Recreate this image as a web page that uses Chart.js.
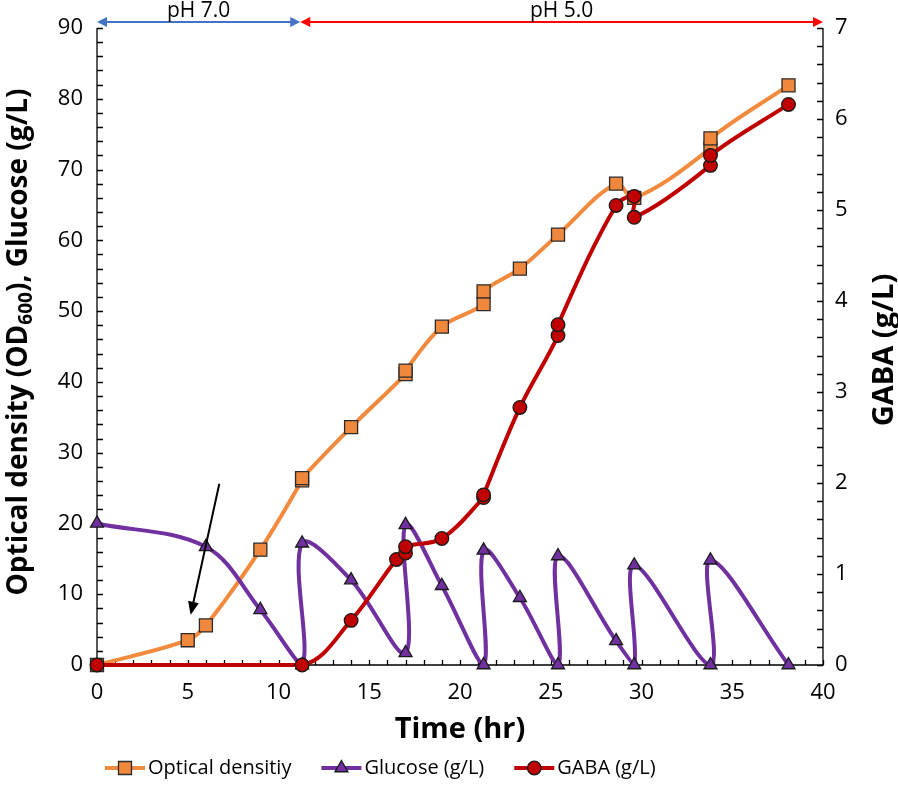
<!DOCTYPE html>
<html>
<head>
<meta charset="utf-8">
<script src="https://cdn.jsdelivr.net/npm/chart.js@4.4.1/dist/chart.umd.min.js"></script>
<style>
    html, body { margin: 0; padding: 0; background: #fff; }
    #wrap { width: 898px; height: 790px; }
</style>
</head>
<body>
<div id="wrap"><canvas id="gabaChart" width="898" height="790"></canvas></div>
<script>
// Optical density (left axis)
const odTime = [0, 5, 6, 9, 11.3, 11.3, 14, 17, 17, 19, 21.3, 21.3, 23.3, 25.4, 28.6, 29.6, 33.8, 33.8, 38.1];
const odValue = [0, 3.5, 5.6, 16.3, 26.1, 26.4, 33.6, 41.1, 41.6, 47.8, 51.0, 52.8, 56.0, 60.8, 68.0, 66.0, 73.0, 74.4, 81.9];

// Glucose (left axis)
const glucoseTime = [0, 6, 9, 11.3, 11.3, 14, 17, 17, 19, 21.3, 21.3, 23.3, 25.4, 25.4, 28.6, 29.6, 29.6, 33.8, 33.8, 38.1];
const glucoseValue = [20, 16.7, 7.8, 0, 17.2, 12.0, 1.7, 19.8, 11.2, 0, 16.2, 9.5, 0, 15.4, 3.4, 0, 14.1, 0, 14.8, 0];

// GABA (right axis)
const gabaTime = [0, 11.3, 14, 16.5, 17, 17, 19, 21.3, 21.3, 23.3, 25.4, 25.4, 28.6, 29.6, 29.6, 33.8, 33.8, 38.1];
const gabaValue = [0, 0, 0.49, 1.16, 1.23, 1.30, 1.39, 1.84, 1.87, 2.83, 3.62, 3.74, 5.05, 5.15, 4.92, 5.49, 5.60, 6.16];

const seriesLabels = ['Optical densitiy', 'Glucose (g/L)', 'GABA (g/L)'];

// pH phases shown as arrows above the plot
const phaseLabels = ['pH 7.0', 'pH 5.0'];
const phaseStart = [0, 11.2];
const phaseEnd = [11.2, 40];

// black arrow pointing at the induction time (time, left-axis value)
const pointerFrom = [6.74, 25.6];
const pointerTo = [5.16, 7.1];

const FONT = '"Open Sans", sans-serif';
const ORANGE = '#F28A3E';
const PURPLE = '#7030A0';
const RED = '#C00000';

function toPoints(xs, ys) {
    return xs.map((x, i) => ({ x: x, y: ys[i] }));
}

function arrowHead(ctx, x1, y1, x2, y2, len, half, color) {
    const a = Math.atan2(y2 - y1, x2 - x1);
    ctx.save();
    ctx.fillStyle = color;
    ctx.beginPath();
    ctx.moveTo(x2, y2);
    ctx.lineTo(x2 - len * Math.cos(a) + half * Math.sin(a), y2 - len * Math.sin(a) - half * Math.cos(a));
    ctx.lineTo(x2 - len * Math.cos(a) - half * Math.sin(a), y2 - len * Math.sin(a) + half * Math.cos(a));
    ctx.closePath();
    ctx.fill();
    ctx.restore();
}

// axes with small inside ticks, drawn under the data
const axesPlugin = {
    id: 'axesPlugin',
    beforeDatasetsDraw(chart) {
        const ctx = chart.ctx;
        const { left, right, top, bottom } = chart.chartArea;
        const xs = chart.scales.x, yl = chart.scales.y, yr = chart.scales.y2;
        ctx.save();
        ctx.strokeStyle = '#000';
        ctx.lineWidth = 1.3;
        ctx.beginPath();
        ctx.moveTo(left, top); ctx.lineTo(left, bottom); ctx.lineTo(right, bottom); ctx.lineTo(right, top);
        for (let v = 0; v <= 40; v += 1) {
            const px = Math.round(xs.getPixelForValue(v)) + 0.5;
            ctx.moveTo(px, bottom); ctx.lineTo(px, bottom - 5);
        }
        for (let v = 0; v <= 90; v += 2) {
            const py = Math.round(yl.getPixelForValue(v)) + 0.5;
            ctx.moveTo(left, py); ctx.lineTo(left + 6, py);
        }
        for (let i = 0; i <= 35; i++) {
            const py = Math.round(yr.getPixelForValue(i * 0.2)) + 0.5;
            ctx.moveTo(right, py); ctx.lineTo(right - 6, py);
        }
        ctx.stroke();
        ctx.restore();
    },
    afterDraw(chart) {
        const ctx = chart.ctx;
        const { left, right } = chart.chartArea;
        const xs = chart.scales.x, yl = chart.scales.y;
        ctx.save();
        ctx.fillStyle = '#000';

        // x title
        ctx.font = 'bold 29px ' + FONT;
        ctx.textAlign = 'center';
        ctx.textBaseline = 'alphabetic';
        ctx.fillText('Time (hr)', (left + right) / 2, 738);

        // right title
        ctx.save();
        ctx.translate(893, 350);
        ctx.rotate(-Math.PI / 2);
        ctx.fillText('GABA (g/L)', 0, 0);
        ctx.restore();

        // left title with subscript
        ctx.save();
        ctx.translate(27, 342);
        ctx.rotate(-Math.PI / 2);
        ctx.textAlign = 'left';
        const partA = 'Optical density (OD', sub = '600', partB = '), Glucose (g/L)';
        ctx.font = 'bold 28px ' + FONT;
        const wA = ctx.measureText(partA).width, wB = ctx.measureText(partB).width;
        ctx.font = 'bold 19px ' + FONT;
        const wS = ctx.measureText(sub).width;
        let x0 = -(wA + wS + wB) / 2;
        ctx.font = 'bold 28px ' + FONT;
        ctx.fillText(partA, x0, 0);
        ctx.font = 'bold 19px ' + FONT;
        ctx.fillText(sub, x0 + wA, 5);
        ctx.font = 'bold 28px ' + FONT;
        ctx.fillText(partB, x0 + wA + wS, 0);
        ctx.restore();

        // pH arrows
        const arrowY = 22;
        const phaseColors = ['#4472C4', '#FF0000'];
        ctx.font = '21px ' + FONT;
        ctx.textAlign = 'center';
        ctx.textBaseline = 'middle';
        phaseLabels.forEach((lab, i) => {
            const x1 = xs.getPixelForValue(phaseStart[i]);
            const x2 = xs.getPixelForValue(phaseEnd[i]);
            ctx.strokeStyle = phaseColors[i];
            ctx.lineWidth = 2;
            ctx.beginPath();
            ctx.moveTo(x1 + 6, arrowY); ctx.lineTo(x2 - 6, arrowY);
            ctx.stroke();
            arrowHead(ctx, x2, arrowY, x1, arrowY, 10, 5, phaseColors[i]);
            arrowHead(ctx, x1, arrowY, x2, arrowY, 10, 5, phaseColors[i]);
            ctx.fillStyle = '#000';
            ctx.fillText(lab, (x1 + x2) / 2, 11);
        });

        // black pointer arrow
        const ax1 = xs.getPixelForValue(pointerFrom[0]), ay1 = yl.getPixelForValue(pointerFrom[1]);
        const ax2 = xs.getPixelForValue(pointerTo[0]), ay2 = yl.getPixelForValue(pointerTo[1]);
        ctx.strokeStyle = '#000';
        ctx.lineWidth = 2;
        ctx.beginPath();
        ctx.moveTo(ax1, ay1);
        const ang = Math.atan2(ay2 - ay1, ax2 - ax1);
        ctx.lineTo(ax2 - 8 * Math.cos(ang), ay2 - 8 * Math.sin(ang));
        ctx.stroke();
        arrowHead(ctx, ax1, ay1, ax2, ay2, 13, 5.5, '#000');

        // legend: line sample with marker, then the text
        ctx.font = '20px ' + FONT;
        ctx.textAlign = 'left';
        ctx.textBaseline = 'middle';
        const ly = 768;
        let lx = 105;
        chart.data.datasets.forEach((ds) => {
            ctx.strokeStyle = ds.borderColor;
            ctx.lineWidth = 4;
            ctx.beginPath();
            ctx.moveTo(lx, ly); ctx.lineTo(lx + 40, ly);
            ctx.stroke();
            ctx.fillStyle = ds.pointBackgroundColor;
            ctx.strokeStyle = ds.pointBorderColor;
            ctx.lineWidth = ds.pointBorderWidth;
            Chart.helpers.drawPoint(ctx, {
                pointStyle: ds.pointStyle, radius: ds.pointRadius, rotation: 0, borderWidth: ds.pointBorderWidth
            }, lx + 20, ly);
            ctx.fillStyle = '#000';
            ctx.fillText(ds.label, lx + 43, ly);
            lx += 43 + ctx.measureText(ds.label).width + 30;
        });
        ctx.restore();
    }
};

const ctx = document.getElementById('gabaChart').getContext('2d');
const gabaChart = new Chart(ctx, {
    type: 'line',
    data: {
        datasets: [
            {
                label: seriesLabels[0],
                data: toPoints(odTime, odValue),
                yAxisID: 'y',
                borderColor: ORANGE,
                borderWidth: 4,
                pointStyle: 'rect',
                pointRadius: 9.2,
                pointBackgroundColor: '#EF883C',
                pointBorderColor: '#2b2b2b',
                pointBorderWidth: 1.3,
                tension: 0.35,
                order: 3,
                clip: 12
            },
            {
                label: seriesLabels[1],
                data: toPoints(glucoseTime, glucoseValue),
                yAxisID: 'y',
                borderColor: PURPLE,
                borderWidth: 4,
                pointStyle: 'triangle',
                pointRadius: 7.5,
                pointBackgroundColor: PURPLE,
                pointBorderColor: '#1a1a1a',
                pointBorderWidth: 1.3,
                tension: 0.35,
                order: 2,
                clip: 12
            },
            {
                label: seriesLabels[2],
                data: toPoints(gabaTime, gabaValue),
                yAxisID: 'y2',
                borderColor: RED,
                borderWidth: 4,
                pointStyle: 'circle',
                pointRadius: 6.8,
                pointBackgroundColor: RED,
                pointBorderColor: '#1a1a1a',
                pointBorderWidth: 1.3,
                tension: 0.35,
                order: 1,
                clip: 12
            }
        ]
    },
    options: {
        responsive: false,
        animation: false,
        devicePixelRatio: 1,
        layout: { padding: { top: 28, left: 0, right: 0, bottom: 0 } },
        plugins: {
            legend: { display: false },
            tooltip: { enabled: false }
        },
        font: { family: FONT },
        scales: {
            x: {
                type: 'linear',
                min: 0, max: 40,
                grid: { display: false, drawTicks: false },
                border: { display: false },
                ticks: { stepSize: 5, color: '#000', padding: 15, font: { family: FONT, size: 22 } },
                afterFit(scale) { scale.height = 125; }
            },
            y: {
                position: 'left',
                min: 0, max: 90,
                grid: { display: false, drawTicks: false },
                border: { display: false },
                ticks: { stepSize: 10, color: '#000', padding: 14, font: { family: FONT, size: 22 } },
                afterFit(scale) { scale.width = 97; }
            },
            y2: {
                position: 'right',
                min: 0, max: 7,
                grid: { display: false, drawTicks: false },
                border: { display: false },
                ticks: { stepSize: 1, color: '#000', padding: 12, font: { family: FONT, size: 22 } },
                afterFit(scale) { scale.width = 75; }
            }
        }
    },
    plugins: [axesPlugin]
});
</script>
</body>
</html>
